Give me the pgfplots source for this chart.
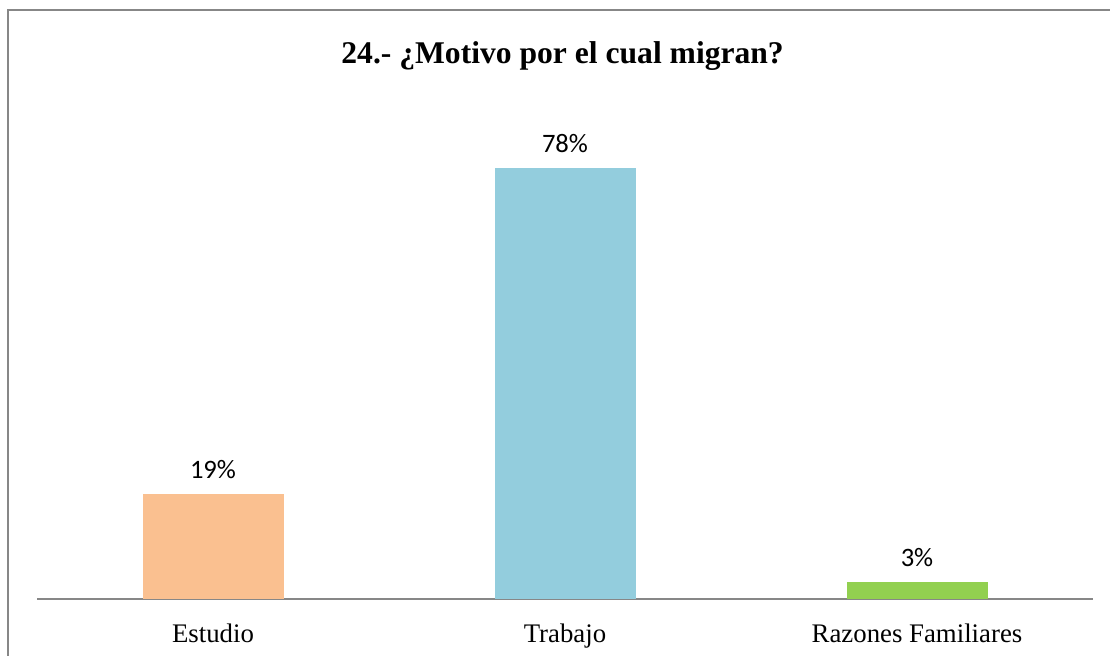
\documentclass[border=0pt]{standalone}
\usepackage{pgfplots}
\pgfplotsset{compat=1.18}
\usepackage{fontspec}
\setmainfont{Liberation Serif}
\newfontfamily\calibri{Carlito}
\definecolor{cOrange}{HTML}{FAC090}
\definecolor{cBlue}{HTML}{93CDDD}
\definecolor{cGreen}{HTML}{92D050}
\definecolor{cFrame}{HTML}{878787}
\begin{document}
\begin{tikzpicture}
\useasboundingbox (0pt,0pt) rectangle (555pt,327.5pt);
\draw[cFrame, line width=1pt] (4pt,-2pt) -- (4pt,322.5pt) -- (560pt,322.5pt);
\node[font=\fontsize{15.8}{19}\selectfont\bfseries] at (281.3pt,299.5pt) {24.- ¿Motivo por el cual migran?};
\begin{axis}[
  at={(18.5pt,28pt)}, anchor=south west,
  scale only axis,
  width=528pt, height=248.5pt,
  xmin=-0.5, xmax=2.5, ymin=0, ymax=90,
  axis y line=none,
  axis x line=bottom,
  x axis line style={-, cFrame, line width=0.9pt},
  xtick={0,1,2},
  xticklabels={Estudio,Trabajo,Razones Familiares},
  xtick style={draw=none},
  xticklabel style={font=\fontsize{13.4}{16}\selectfont, yshift=-4.5pt},
  ybar, bar width=70.5pt, bar shift=0pt,
  nodes near coords={\calibri\pgfmathprintnumber[assume math mode=true]{\pgfplotspointmeta}\%},
  nodes near coords style={font=\calibri\fontsize{13.3}{16}\selectfont, anchor=center, yshift=12.5pt},
  clip=false,
]
\addplot[fill=cOrange, draw=none] coordinates {(0,19)};
\addplot[fill=cBlue, draw=none] coordinates {(1,78)};
\addplot[fill=cGreen, draw=none] coordinates {(2,3)};
\end{axis}
\end{tikzpicture}
\end{document}
